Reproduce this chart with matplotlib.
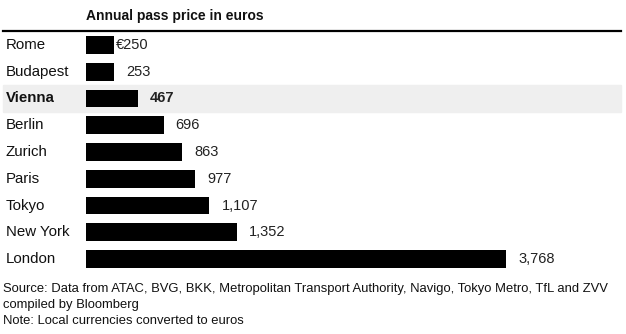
import matplotlib.pyplot as plt
from matplotlib.transforms import blended_transform_factory, offset_copy

plt.rcParams['font.family'] = ['Liberation Sans', 'DejaVu Sans']

cities = ["Rome", "Budapest", "Vienna", "Berlin", "Zurich", "Paris", "Tokyo", "New York", "London"]
prices = [250, 253, 467, 696, 863, 977, 1107, 1352, 3768]
labels = ["€250", "253", "467", "696", "863", "977", "1,107", "1,352", "3,768"]
highlight = "Vienna"

W, H = 626, 334
fig = plt.figure(figsize=(W / 100, H / 100), dpi=100)

# axes in pixel layout: bars start at x=86, rows between y=31.6 and 272.4
ax_left, ax_right = 86, 626
ax_top, ax_bot = 31.6, 272.4
ax = fig.add_axes([ax_left / W, 1 - ax_bot / H, (ax_right - ax_left) / W, (ax_bot - ax_top) / H])
ax.set_xlim(0, (ax_right - ax_left) / 0.1115)
ax.set_ylim(len(cities) - 0.5, -0.5)
ax.axis("off")
ax.set_zorder(2)

ypos = list(range(len(cities)))
ax.barh(ypos, prices, height=0.66, color="black", zorder=3)

trans_fig_y = blended_transform_factory(fig.transFigure, ax.transData)

for i, (c, p, lab) in enumerate(zip(cities, prices, labels)):
    bold = c == highlight
    if bold:
        fig.patches.append(plt.Rectangle((3 / W, i - 0.5), (621 - 3) / W, 1.0,
                                         transform=trans_fig_y, color="#efefef", zorder=-1))
    fig.text(6 / W, i, c, transform=trans_fig_y, ha="left", va="center",
             fontsize=10.8, color="#111111", fontweight="bold" if bold else "normal")
    dx = 1.5 if lab.startswith("€") else 12
    ax.text(p, i, lab, transform=offset_copy(ax.transData, fig=fig, x=dx * 0.72, units="points"),
            ha="left", va="center", fontsize=10.5, color="#222222",
            fontweight="bold" if bold else "normal")

# title and header rule
fig.text(86 / W, 1 - 16 / H, "Annual pass price in euros", ha="left", va="center",
         fontsize=10, fontweight="bold", color="#111111")
fig.add_artist(plt.Line2D([3 / W, 621 / W], [1 - 30.7 / H, 1 - 30.7 / H], color="black", lw=1.6))

# footer
foot = ["Source: Data from ATAC, BVG, BKK, Metropolitan Transport Authority, Navigo, Tokyo Metro, TfL and ZVV",
        "compiled by Bloomberg",
        "Note: Local currencies converted to euros"]
for k, line in enumerate(foot):
    fig.text(3 / W, 1 - (289 + 16 * k) / H, line, ha="left", va="center", fontsize=9.35, color="#111111")

fig.savefig("out.png", dpi=100)
